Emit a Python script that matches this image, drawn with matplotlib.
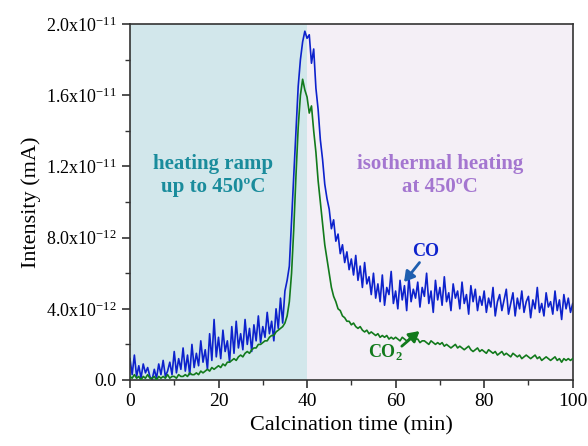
import numpy as np
import matplotlib
matplotlib.use("Agg")
import matplotlib.pyplot as plt
from matplotlib.ticker import MultipleLocator, FixedLocator

plt.rcParams['font.family'] = ['Liberation Serif', 'DejaVu Serif']
plt.rcParams['mathtext.fontset'] = 'custom'
plt.rcParams['mathtext.rm'] = 'Liberation Serif'

# time axis, minutes (0.5 min sampling)
time = np.arange(0, 100.5, 0.5)

# CO signal, units of 1e-12 mA
co = [
    1.2, 0.3, 1.4, 0.2, 0.8, 0.1, 0.9, 0.4, 0.7, 0.2,
    0.0, 0.6, 0.1, 0.9, 0.3, 1.1, 0.2, 0.5, 1.0, 0.3,
    1.6, 0.4, 1.2, 0.6, 1.8, 0.5, 1.4, 0.3, 2.0, 0.7,
    1.5, 0.8, 2.2, 1.0, 1.7, 0.6, 2.6, 1.1, 3.4, 1.3,
    2.4, 1.2, 2.8, 1.6, 2.2, 1.0, 3.0, 1.5, 3.3, 1.8,
    2.6, 1.7, 3.4, 2.0, 2.9, 1.6, 3.1, 2.2, 3.6, 2.1,
    3.0, 2.4, 3.8, 2.6, 3.3, 2.2, 4.0, 2.9, 4.6, 3.2,
    5.0, 5.6, 6.4, 9.0, 11.5, 14.0, 16.5, 18.0, 19.0, 19.6,
    19.2, 19.4, 17.8, 18.6, 16.4, 15.2, 13.5, 12.4, 11.0, 10.2,
    9.6, 8.5, 9.0, 7.8, 8.2, 7.1, 7.6, 6.6, 7.2, 6.2,
    6.8, 5.9, 7.0, 5.6, 6.4, 5.2, 6.6, 5.4, 5.8, 4.8,
    6.0, 4.6, 5.4, 4.4, 5.9, 4.2, 5.2, 4.8, 6.1, 4.3,
    5.0, 4.0, 5.6, 4.5, 5.3, 3.9, 5.8, 4.4, 5.1, 4.6,
    5.5, 4.1, 5.2, 4.7, 6.0, 4.3, 5.0, 3.8, 5.6, 4.5,
    5.2, 4.2, 5.8, 4.4, 4.9, 3.9, 5.4, 4.6, 5.0, 4.0,
    5.5, 4.3, 4.8, 3.7, 5.3, 4.4, 5.1, 3.9, 4.7, 4.2,
    5.0, 3.8, 4.6, 4.1, 5.2, 3.6, 4.4, 4.8, 3.9, 4.5,
    5.1, 3.7, 4.3, 4.9, 3.6, 4.6, 4.0, 5.0, 3.8, 4.4,
    4.7, 3.5, 4.5, 4.0, 5.2, 3.8, 4.3, 3.6, 4.9, 4.1,
    4.4, 3.7, 5.0, 3.9, 4.5, 3.4, 4.8, 4.0, 4.6, 3.8,
    4.3,
]

# CO2 signal, units of 1e-12 mA
co2 = [
    0.2, 0.1, 0.3, 0.1, 0.2, 0.0, 0.2, 0.1, 0.3, 0.1,
    0.1, 0.2, 0.0, 0.2, 0.1, 0.2, 0.1, 0.3, 0.1, 0.2,
    0.2, 0.1, 0.3, 0.2, 0.2, 0.3, 0.2, 0.4, 0.3, 0.3,
    0.4, 0.3, 0.5, 0.4, 0.5, 0.6, 0.5, 0.7, 0.6, 0.7,
    0.8, 0.7, 0.9, 0.8, 1.0, 1.0, 1.1, 1.2, 1.1, 1.3,
    1.4, 1.3, 1.5, 1.6, 1.5, 1.7, 1.8, 1.8, 2.0, 2.0,
    2.1, 2.2, 2.2, 2.4, 2.5, 2.5, 2.7, 2.8, 2.9, 3.0,
    3.2, 3.6, 4.4, 6.0, 8.5, 11.5, 14.2, 16.0, 16.9, 16.3,
    15.9, 15.0, 15.4, 14.0, 12.8, 11.2, 10.0, 8.8, 7.6, 6.8,
    6.0, 5.2, 4.7, 4.4, 4.0, 3.9, 3.6, 3.5, 3.3, 3.3,
    3.1, 3.2, 3.0, 2.9, 3.0, 2.8, 2.7, 2.8, 2.6, 2.7,
    2.6, 2.5, 2.6, 2.4, 2.5, 2.4, 2.5, 2.3, 2.4, 2.3,
    2.4, 2.3, 2.2, 2.4, 2.3, 2.2, 2.3, 2.5, 2.2, 2.3,
    2.3, 2.1, 2.2, 2.2, 2.1, 2.0, 2.2, 2.1, 2.0, 2.1,
    2.0, 2.1, 1.9, 2.0, 1.9, 1.8, 1.9, 2.0, 1.8, 1.9,
    1.8, 1.7, 1.8, 1.9, 1.7, 1.6, 1.7, 1.8, 1.6, 1.7,
    1.6, 1.5, 1.7, 1.6, 1.5, 1.6, 1.4, 1.5, 1.6, 1.4,
    1.5, 1.4, 1.3, 1.5, 1.4, 1.3, 1.4, 1.2, 1.3, 1.4,
    1.3, 1.2, 1.3, 1.4, 1.2, 1.3, 1.1, 1.2, 1.3, 1.2,
    1.1, 1.2, 1.3, 1.1, 1.2, 1.0, 1.2, 1.1, 1.2, 1.1,
    1.2,
]

ytick_vals = [0, 4e-12, 8e-12, 1.2e-11, 1.6e-11, 2.0e-11]
ytick_labels = ['0.0', r'$\mathregular{4.0x10^{-12}}$', r'$\mathregular{8.0x10^{-12}}$',
                r'$\mathregular{1.2x10^{-11}}$', r'$\mathregular{1.6x10^{-11}}$',
                r'$\mathregular{2.0x10^{-11}}$']

co = np.array(co) * 1e-12
co2 = np.array(co2) * 1e-12

fig = plt.figure(figsize=(5.88, 4.46), dpi=100)
ax = fig.add_axes([0.221, 0.148, 0.753, 0.798])

ax.axvspan(0, 40, color='#d2e7eb', lw=0, zorder=0)
ax.axvspan(40, 100, color='#f4eff6', lw=0, zorder=0)

ax.plot(time, co2, color='#127a1c', lw=1.2, zorder=3)
ax.plot(time, co, color='#0d22cc', lw=1.2, zorder=2)

ax.set_xlim(0, 100)
ax.set_ylim(0, 2.0e-11)
ax.xaxis.set_major_locator(MultipleLocator(20))
ax.xaxis.set_minor_locator(MultipleLocator(10))
ax.yaxis.set_major_locator(FixedLocator(ytick_vals))
ax.yaxis.set_minor_locator(MultipleLocator(2e-12))
ax.set_yticklabels(ytick_labels)
ax.tick_params(which='both', direction='out', top=False, right=False, color='#333333')
ax.tick_params(axis='x', labelsize=14)
ax.tick_params(axis='y', labelsize=13)
ax.tick_params(which='major', length=6, width=1.2)
ax.tick_params(which='minor', length=3.5, width=1.0)
for sp in ax.spines.values():
    sp.set_color('#333333')
    sp.set_linewidth(1.2)

ax.set_xlabel('Calcination time (min)', fontsize=16)
ax.set_ylabel('Intensity (mA)', fontsize=16)

ax.text(18.7, 11.5e-12, 'heating ramp\nup to 450\u00baC', color='#1a8c9c', fontsize=15,
        fontweight='bold', ha='center', va='center', linespacing=1.2)
ax.text(70, 11.5e-12, 'isothermal heating\nat 450\u00baC', color='#a476d0', fontsize=15,
        fontweight='bold', ha='center', va='center', linespacing=1.2)

# gas labels with arrows
ax.text(66.8, 7.2e-12, 'CO', color='#0d22cc', fontsize=13, fontweight='bold',
        ha='center', va='center')
ax.annotate('', xy=(61.9, 5.5e-12), xytext=(65.4, 6.6e-12),
            arrowprops=dict(arrowstyle='-|>,head_length=0.6,head_width=0.35', color='#1f5fb0',
                            lw=2, shrinkA=0, shrinkB=0))
ax.text(57.6, 1.55e-12, r'CO$_\mathregular{2}$', color='#127a1c', fontsize=13,
        fontweight='bold', ha='center', va='center')
ax.annotate('', xy=(65.4, 2.75e-12), xytext=(61.4, 1.9e-12),
            arrowprops=dict(arrowstyle='-|>,head_length=0.6,head_width=0.35', color='#127a1c',
                            lw=2, shrinkA=0, shrinkB=0))

fig.savefig('out.png', dpi=100)
